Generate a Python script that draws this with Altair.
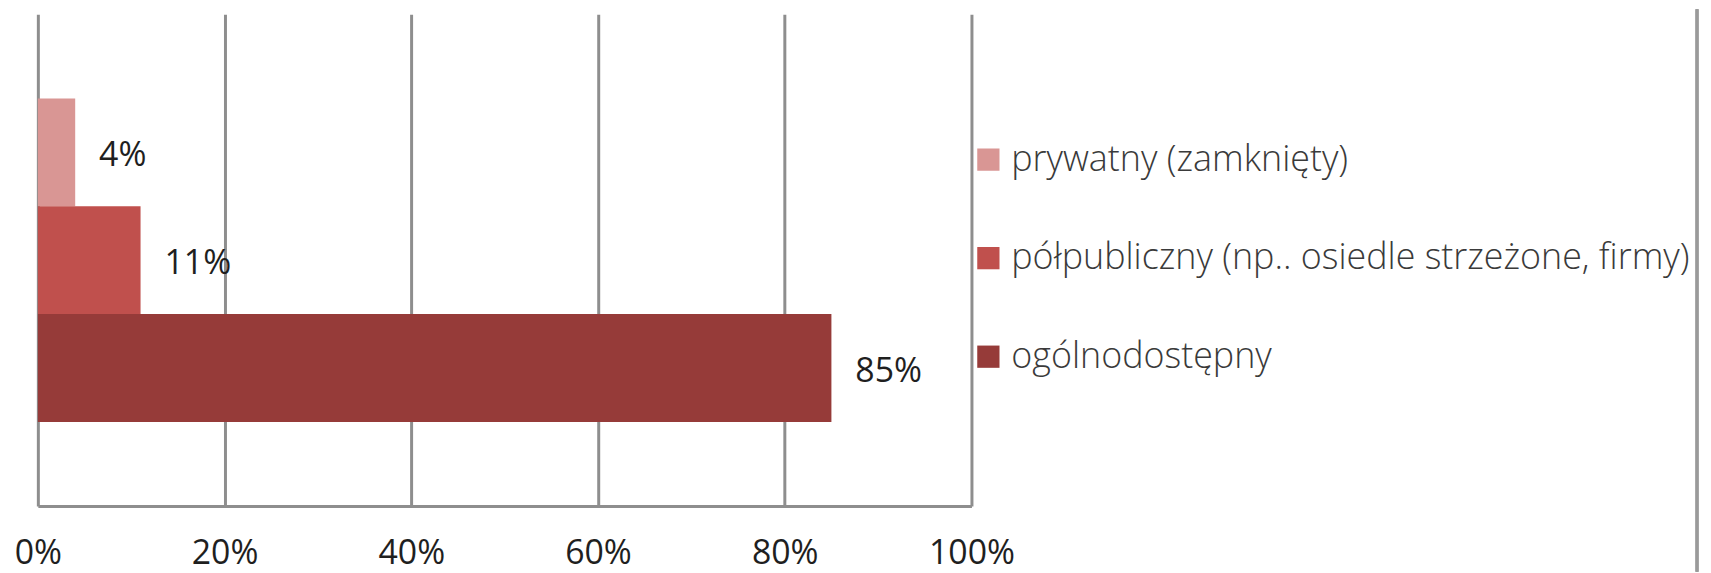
import altair as alt
import pandas as pd

categories = ["prywatny (zamknięty)", "półpubliczny (np.. osiedle strzeżone, firmy)", "ogólnodostępny"]
values = [0.04, 0.11, 0.85]
colors = ["#D99694", "#C0504D", "#963B39"]
ticks = [0, 0.2, 0.4, 0.6, 0.8, 1.0]

df = pd.DataFrame({"kategoria": categories, "wartosc": values})

FONT = "Open Sans"

base = alt.Chart(df).encode(
    y=alt.Y("kategoria:N", sort=categories,
            scale=alt.Scale(paddingInner=0, paddingOuter=0.78), axis=None),
)

bars = base.mark_bar().encode(
    x=alt.X("wartosc:Q", scale=alt.Scale(domain=[0, 1], nice=False),
            axis=alt.Axis(values=ticks, format=".0%", title=None, grid=True,
                          gridColor="#8e8e8e", gridWidth=3, domainColor="#8e8e8e",
                          domainWidth=3, ticks=False, labelPadding=31,
                          labelFont=FONT, labelFontSize=34, labelColor="#1f1f1f",
                          labelFlush=False)),
    color=alt.Color("kategoria:N", sort=categories,
                    scale=alt.Scale(domain=categories, range=colors),
                    legend=alt.Legend(title=None, orient="none", legendX=937, legendY=128,
                                      symbolType="square", symbolSize=500,
                                      symbolStrokeWidth=0, labelFont=FONT,
                                      labelFontSize=36, labelFontWeight=300,
                                      labelColor="#3a3a3a", labelOffset=5,
                                      rowPadding=63, padding=0, labelLimit=1000)),
)

labels = base.mark_text(align="left", baseline="middle", dx=24, dy=4,
                        font=FONT, fontSize=34, color="#1f1f1f").encode(
    x="wartosc:Q",
    text=alt.Text("wartosc:Q", format=".0%"),
)

border = alt.Chart(df).mark_rule(color="#9a9a9a", strokeWidth=3).encode(
    x=alt.value(1667), y=alt.value(-5), y2=alt.value(560)
)

chart = alt.layer(bars, labels, border).properties(
    width=938, height=494,
    autosize=alt.AutoSizeParams(type="none"),
    padding={"left": 30, "top": 5, "right": 735, "bottom": 66},
).configure_view(stroke=None)

chart.save("out.html", embed_options={"renderer": "svg", "actions": False})
